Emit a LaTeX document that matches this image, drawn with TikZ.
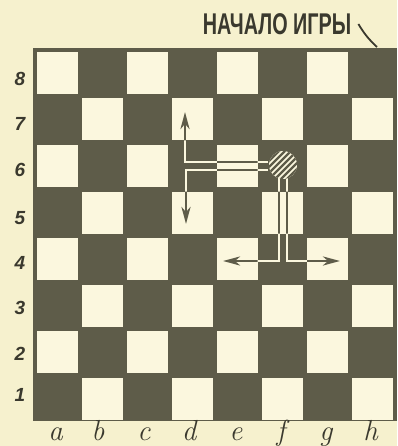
\documentclass[tikz,border=0pt]{standalone}
\usepackage{fontspec}
\usetikzlibrary{arrows.meta}
\newfontfamily\titlefont{Liberation Sans}
\definecolor{paper}{HTML}{F6F1CE}
\definecolor{lightsq}{HTML}{FBF7DE}
\definecolor{darksq}{HTML}{5E5C49}
\definecolor{ink}{HTML}{3A392E}

% the four limbs of the figure, drawn in one colour
\newcommand\drawlimbs[1]{%
  \draw[limb,#1,tip] (armU) -- (elbowU) -- (upTip);
  \draw[limb,#1,tip] (armL) -- (elbowL) -- (downTip);
  \draw[limb,#1,tip] (legL) -- (kneeL) -- (leftTip);
  \draw[limb,#1,tip] (legR) -- (kneeR) -- (rightTip);
}

\begin{document}
\begin{tikzpicture}[x=1pt,y=-1pt,
  rank/.style={font=\titlefont\fontsize{19}{19}\selectfont\bfseries\itshape, text=ink, inner sep=0pt},
  file/.style={font=\fontsize{29}{29}\selectfont\itshape, text=ink, inner sep=0pt, anchor=base},
  limb/.style={line width=2.6pt, line join=miter},
  tip/.style={-{Stealth[length=17pt,width=9pt,inset=5pt]}},
]
\fill[paper] (0,0) rectangle (397,446);
\useasboundingbox (0,0) rectangle (397,446);

% board: dark ground with inset light squares
\fill[darksq] (33,48) rectangle (397,421);
\foreach \j in {0,...,7}
  \foreach \k in {0,2,4,6}
    \fill[lightsq] ({33+45*(\k+mod(\j,2))+4},{48+46.5*\j+4})
      rectangle ({33+45*(\k+mod(\j,2)+1)-0.5},{48+46.5*(\j+1)-0.5});

% figure geometry
\coordinate (head) at (283,165);
\coordinate (armU) at (268,162);
\coordinate (elbowU) at (185,162);
\coordinate (upTip) at (185,112);
\coordinate (armL) at (268,170);
\coordinate (elbowL) at (186,170);
\coordinate (downTip) at (186,224);
\coordinate (legL) at (279,178);
\coordinate (kneeL) at (279,261);
\coordinate (leftTip) at (223,261);
\coordinate (legR) at (287,178);
\coordinate (kneeR) at (287,261);
\coordinate (rightTip) at (340,261);

% limbs: light on dark squares, dark on light squares
\drawlimbs{lightsq}
\begin{scope}
  \clip \foreach \j in {0,...,7} {
          \foreach \k in {0,2,4,6} {
            ({33+45*(\k+mod(\j,2))+4},{48+46.5*\j+4})
            rectangle ({33+45*(\k+mod(\j,2)+1)-0.5},{48+46.5*(\j+1)-0.5})
          }
        };
  \drawlimbs{darksq}
\end{scope}

% hatched head
\fill[lightsq] (head) circle[radius=14];
\begin{scope}
  \clip (head) circle[radius=14];
  \foreach \k in {-30,-24,...,30}
    \draw[darksq, line width=2.2pt]
      ([shift={(\k-20,20)}]head) -- ([shift={(\k+20,-20)}]head);
\end{scope}

% caption with leader to the corner square
\node[font=\titlefont\fontsize{30}{30}\selectfont\bfseries, text=ink, inner sep=0pt]
  (title) at (277,24) {\scalebox{0.66}[1]{НАЧАЛО ИГРЫ}};
\coordinate (corner) at (377,47);
\draw[ink, line width=1.8pt] ([xshift=7pt]title.east) to[bend right=8] (corner);

% rank numbers
\node[rank] (r8) at (20,79) {8};
\node[rank] (r7) at (20,124) {7};
\node[rank] (r6) at (20,170) {6};
\node[rank] (r5) at (20,218) {5};
\node[rank] (r4) at (20,263) {4};
\node[rank] (r3) at (20,308) {3};
\node[rank] (r2) at (20,354) {2};
\node[rank] (r1) at (20,395) {1};

% file letters
\node[file] (fa) at (55.5,440) {a};
\node[file] (fb) at (98,440) {b};
\node[file] (fc) at (144,440) {c};
\node[file] (fd) at (189,440) {d};
\node[file] (fe) at (236,440) {e};
\node[file] (ff) at (281,440) {f};
\node[file] (fg) at (326,440) {g};
\node[file] (fh) at (370.5,440) {h};
\end{tikzpicture}
\end{document}
